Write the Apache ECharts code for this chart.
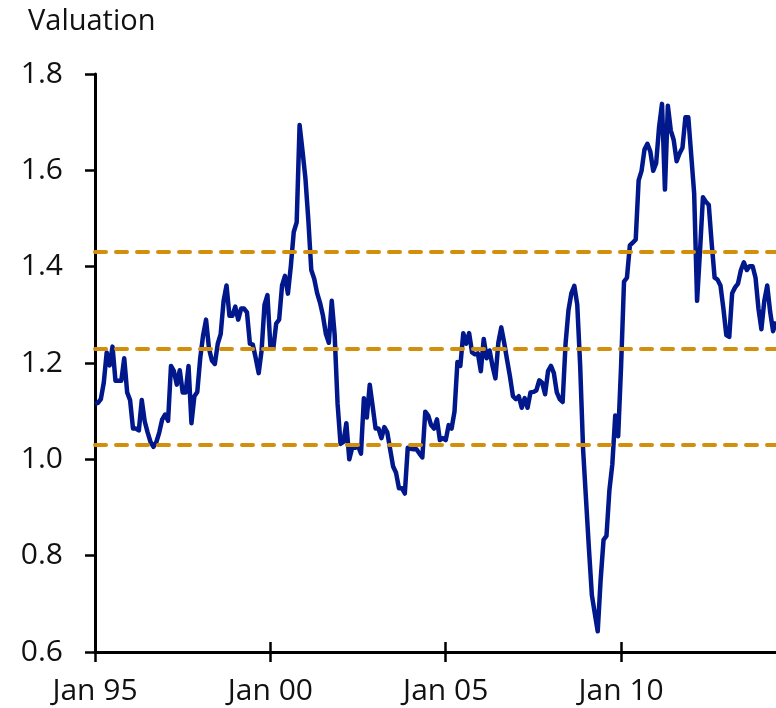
<!DOCTYPE html>
<html>
<head>
<meta charset="utf-8">
<script src="https://cdn.jsdelivr.net/npm/echarts@6/dist/echarts.min.js"></script>
<style>
  html, body { margin: 0; padding: 0; background: #fff; }
  #chart { width: 776px; height: 708px; }
</style>
</head>
<body>
<div id="chart"></div>
<script>
// monthly valuation, Jan 1995 - Jun 2014
const valuation95to99 = [
  1.115, 1.117, 1.125, 1.159, 1.222, 1.195, 1.234, 1.163, 1.163, 1.163, 1.21, 1.139,
  1.123, 1.064, 1.064, 1.06, 1.123, 1.079, 1.056, 1.036, 1.026, 1.036, 1.056, 1.083,
  1.093, 1.08, 1.194, 1.183, 1.155, 1.185, 1.139, 1.139, 1.194, 1.075, 1.131, 1.14,
  1.21, 1.258, 1.29, 1.23, 1.205, 1.198, 1.24, 1.26, 1.329, 1.361, 1.298, 1.298,
  1.317, 1.29, 1.313, 1.313, 1.305, 1.24, 1.238, 1.21, 1.179, 1.226, 1.321, 1.341
]
const valuation00to04 = [
  1.235, 1.23, 1.282, 1.29, 1.361, 1.381, 1.344, 1.401, 1.472, 1.492, 1.694, 1.64,
  1.583, 1.496, 1.393, 1.375, 1.345, 1.325, 1.298, 1.26, 1.242, 1.329, 1.258, 1.115,
  1.032, 1.036, 1.075, 1.0, 1.024, 1.024, 1.028, 1.012, 1.127, 1.087, 1.155, 1.11,
  1.064, 1.064, 1.044, 1.067, 1.056, 1.02, 0.985, 0.972, 0.94, 0.94, 0.929, 1.024,
  1.022, 1.021, 1.021, 1.012, 1.004, 1.099, 1.091, 1.071, 1.064, 1.083, 1.04, 1.044
]
const valuation05to09 = [
  1.04, 1.071, 1.064, 1.099, 1.202, 1.194, 1.262, 1.24, 1.262, 1.222, 1.218, 1.22,
  1.183, 1.25, 1.21, 1.226, 1.194, 1.168, 1.242, 1.274, 1.242, 1.206, 1.171, 1.131,
  1.125, 1.131, 1.107, 1.127, 1.107, 1.139, 1.14, 1.143, 1.164, 1.159, 1.135, 1.183,
  1.194, 1.179, 1.139, 1.125, 1.119, 1.24, 1.31, 1.345, 1.36, 1.321, 1.194, 1.02,
  0.917, 0.814, 0.718, 0.68, 0.643, 0.75, 0.833, 0.841, 0.936, 0.99, 1.091, 1.048
]
const valuation10to14 = [
  1.194, 1.369, 1.377, 1.444, 1.45, 1.456, 1.579, 1.599, 1.643, 1.655, 1.639, 1.599,
  1.615, 1.69, 1.738, 1.56, 1.734, 1.683, 1.663, 1.619, 1.635, 1.647, 1.71, 1.71,
  1.631, 1.552, 1.329, 1.433, 1.544, 1.535, 1.528, 1.448, 1.377, 1.373, 1.361, 1.313,
  1.258, 1.254, 1.345, 1.357, 1.365, 1.393, 1.409, 1.393, 1.401, 1.401, 1.377, 1.313,
  1.27, 1.329, 1.361, 1.306, 1.266, 1.286
]
// dashed reference levels
const bandLevels = [1.43, 1.23, 1.03]
const yTicks = [0.6, 0.8, 1.0, 1.2, 1.4, 1.6, 1.8]
const monthNames = ['Jan', 'Feb', 'Mar', 'Apr', 'May', 'Jun', 'Jul', 'Aug', 'Sep', 'Oct', 'Nov', 'Dec']

const valuation = [].concat(valuation95to99, valuation00to04, valuation05to09, valuation10to14)

// month labels, e.g. "Jan 95"
const categories = valuation.map((v, i) => {
  const year = 1995 + Math.floor(i / 12)
  return monthNames[i % 12] + ' ' + String(year).slice(2)
})

const fontFamily = '"Open Sans", "Noto Sans", sans-serif'
const axisColor = '#000000'
const lineColor = '#00188C'
const bandColor = '#D28F0B'
const everyFiveYears = (index) => index % 60 === 0

const chart = echarts.init(document.getElementById('chart'), null, { renderer: 'canvas' })

chart.setOption({
  animation: false,
  title: {
    text: 'Valuation',
    left: 23,
    top: 2,
    textStyle: {
      color: '#111111',
      fontFamily: fontFamily,
      fontWeight: 'normal',
      fontSize: 29
    }
  },
  grid: {
    left: 95,
    right: 0,
    top: 74,
    bottom: 56,
    containLabel: false
  },
  xAxis: [{
    type: 'category',
    data: categories,
    boundaryGap: false,
    axisLine: {
      lineStyle: { color: axisColor, width: 3 }
    },
    axisTick: {
      interval: everyFiveYears,
      length: 10,
      lineStyle: { color: axisColor, width: 2.5 }
    },
    axisLabel: {
      interval: everyFiveYears,
      margin: 24,
      color: '#111111',
      fontFamily: fontFamily,
      fontSize: 30
    },
    splitLine: { show: false }
  }, {
    // upper half of the crossing ticks
    type: 'category',
    data: categories,
    position: 'bottom',
    boundaryGap: false,
    axisLine: { show: false },
    axisTick: {
      inside: true,
      interval: everyFiveYears,
      length: 10,
      lineStyle: { color: axisColor, width: 2.5 }
    },
    axisLabel: { show: false },
    splitLine: { show: false }
  }],
  yAxis: {
    type: 'value',
    min: yTicks[0],
    max: yTicks[yTicks.length - 1],
    interval: 0.2,
    axisLine: {
      show: true,
      lineStyle: { color: axisColor, width: 3 }
    },
    axisTick: {
      show: true,
      length: 10,
      lineStyle: { color: axisColor, width: 2.5 }
    },
    axisLabel: {
      margin: 32,
      color: '#111111',
      fontFamily: fontFamily,
      fontSize: 30,
      formatter: (v) => v.toFixed(1)
    },
    splitLine: { show: false }
  },
  series: [{
    type: 'line',
    data: valuation,
    xAxisIndex: 0,
    showSymbol: false,
    symbol: 'none',
    z: 2,
    lineStyle: {
      color: lineColor,
      width: 4.5,
      join: 'round'
    }
  }, {
    type: 'line',
    data: [],
    xAxisIndex: 0,
    z: 5,
    markLine: {
      silent: true,
      symbol: 'none',
      label: { show: false },
      lineStyle: {
        color: bandColor,
        width: 4,
        type: [11, 10],
        cap: 'round'
      },
      data: bandLevels.map(v => ({ yAxis: v }))
    }
  }]
})
</script>
</body>
</html>
